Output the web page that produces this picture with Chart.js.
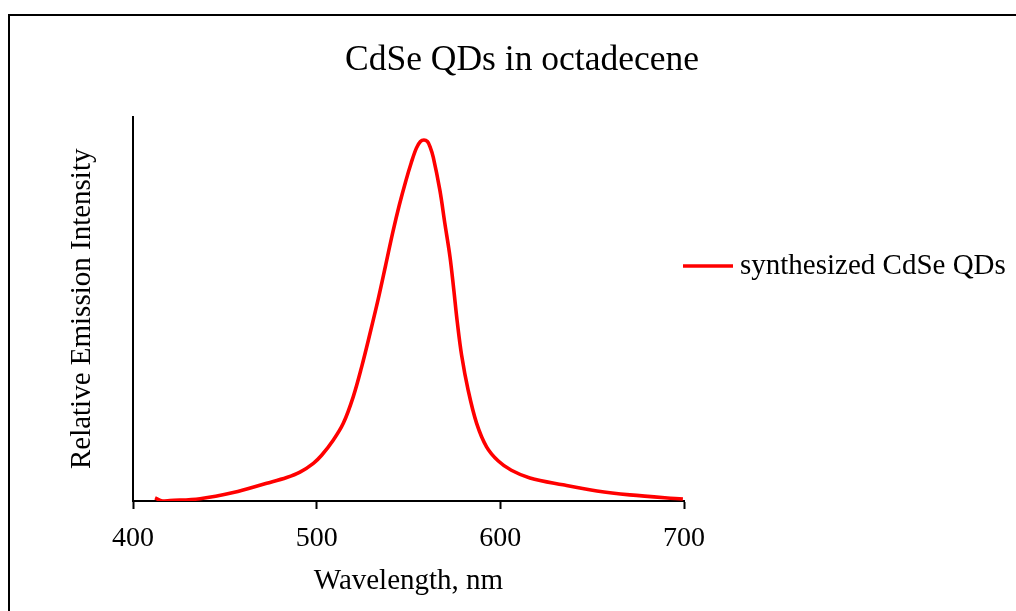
<!DOCTYPE html>
<html lang="en">
<head>
  <meta charset="UTF-8">
  <title>CdSe QDs in octadecene</title>
  <script src="https://cdn.jsdelivr.net/npm/chart.js"></script>
  <style>
    body { margin: 0; background: #fff; }
  </style>
</head>
<body>
  <canvas id="qdChart" width="1016" height="611"></canvas>

  <script>
    // emission spectrum
    const wavelength = [412, 416, 420, 436.5, 454.6, 472.8, 483.7, 490.9, 498.2, 502.7, 509, 514.5, 519.9, 524.5, 529, 533.5, 537.5, 541.5, 545, 548.5, 551.5, 554.3, 556.5, 558.4, 560.3, 561.7, 563.5, 567.1, 569.8, 572.6, 574.6, 576.5, 578.9, 582.5, 587.1, 592.5, 598.9, 606, 616.1, 634.1, 652.6, 670.5, 699.4];
    const intensity = [0.008, 0.0, 0.001, 0.006, 0.022, 0.046, 0.061, 0.075, 0.098, 0.119, 0.158, 0.202, 0.271, 0.349, 0.435, 0.525, 0.612, 0.700, 0.770, 0.832, 0.880, 0.918, 0.935, 0.939, 0.935, 0.922, 0.894, 0.808, 0.722, 0.635, 0.552, 0.468, 0.380, 0.288, 0.202, 0.141, 0.104, 0.080, 0.060, 0.042, 0.026, 0.016, 0.005];
    const xTicks = [400, 500, 600, 700];
    const seriesName = 'synthesized CdSe QDs';

    const serif = "'Liberation Serif', 'Times New Roman', serif";

    // outer frame of the chart (cut off at right and bottom)
    const framePlugin = {
      id: 'frame',
      beforeDraw(chart) {
        const ctx = chart.ctx;
        ctx.save();
        ctx.strokeStyle = '#000';
        ctx.lineWidth = 2;
        ctx.strokeRect(9, 15, 1200, 800);
        ctx.restore();
      }
    };

    // legend to the right of the plot, like the original
    const sideLegend = {
      id: 'sideLegend',
      afterDraw(chart) {
        const ctx = chart.ctx;
        const ds = chart.data.datasets[0];
        const y = 266;
        ctx.save();
        ctx.strokeStyle = ds.borderColor;
        ctx.lineWidth = 3.5;
        ctx.beginPath();
        ctx.moveTo(683, y);
        ctx.lineTo(733, y);
        ctx.stroke();
        ctx.fillStyle = '#000';
        ctx.font = '29px ' + serif;
        ctx.textBaseline = 'middle';
        ctx.fillText(ds.label, 740, y);
        ctx.restore();
      }
    };

    const ctx = document.getElementById('qdChart').getContext('2d');
    const qdChart = new Chart(ctx, {
      type: 'line',
      data: {
        datasets: [{
          label: seriesName,
          data: wavelength.map((w, i) => ({ x: w, y: intensity[i] })),
          borderColor: '#ff0000',
          borderWidth: 3.6,
          pointRadius: 0,
          fill: false,
          tension: 0.35
        }]
      },
      options: {
        responsive: false,
        animation: false,
        layout: { padding: { left: 28, right: 0, top: 0, bottom: 0 } },
        plugins: {
          legend: { display: false },
          tooltip: { enabled: false },
          title: {
            display: true,
            text: 'CdSe QDs in octadecene',
            color: '#000',
            font: { family: serif, size: 35.5, weight: 'normal' },
            padding: { top: 39, bottom: 35 }
          }
        },
        scales: {
          x: {
            type: 'linear',
            min: 400,
            max: 700,
            afterBuildTicks: (scale) => { scale.ticks = xTicks.map(v => ({ value: v })); },
            afterFit: (scale) => { scale.height = 110; },
            ticks: {
              color: '#000',
              padding: 13,
              font: { family: serif, size: 28 }
            },
            grid: {
              drawOnChartArea: false,
              drawTicks: true,
              tickLength: 8,
              tickWidth: 2,
              color: '#000'
            },
            border: { display: true, color: '#000', width: 2 },
            title: {
              display: true,
              text: 'Wavelength, nm',
              color: '#000',
              font: { family: serif, size: 29 },
              padding: { top: 0, bottom: 12 }
            }
          },
          y: {
            min: 0,
            max: 1,
            afterFit: (scale) => { scale.width = 105; },
            ticks: { display: false },
            grid: { display: false },
            border: { display: true, color: '#000', width: 2 },
            title: {
              display: true,
              text: 'Relative Emission Intensity',
              color: '#000',
              font: { family: serif, size: 29 },
              padding: { top: 37, bottom: 0 }
            }
          },
          // empty right-hand scale that keeps room for the legend
          side: {
            position: 'right',
            afterFit: (scale) => { scale.width = 332; },
            ticks: { display: false },
            grid: { display: false },
            border: { display: false }
          }
        }
      },
      plugins: [framePlugin, sideLegend]
    });
  </script>
</body>
</html>
